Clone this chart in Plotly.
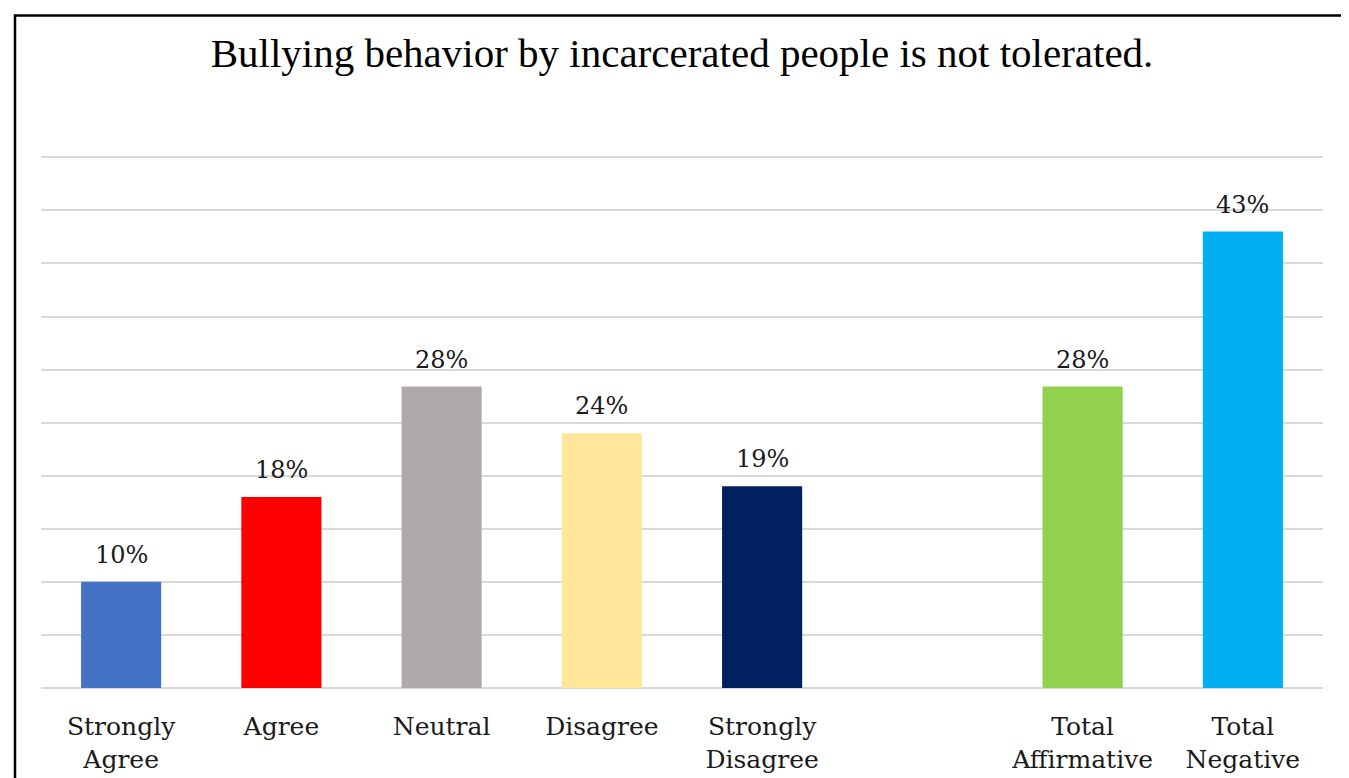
import plotly.graph_objects as go

categories = ["Strongly<br>Agree", "Agree", "Neutral", "Disagree", "Strongly<br>Disagree", " ",
              "Total<br>Affirmative", "Total<br>Negative"]
values = [10, 18, 28.4, 24, 19, None, 28.4, 43]
labels = ["10%", "18%", "28%", "24%", "19%", "", "28%", "43%"]
colors = ["#4472C4", "#FF0000", "#AEAAAA", "#FFE699", "#002060", "#FFFFFF", "#92D050", "#00B0F0"]
grid_values = [0, 5, 10, 15, 20, 25, 30, 35, 40, 45, 50]

title_text = "Bullying behavior by incarcerated people is not tolerated."
FONT = "Georgia, 'DejaVu Serif', serif"
TITLE_FONT = "'Times New Roman', 'Liberation Serif', serif"

fig = go.Figure()
fig.add_trace(go.Bar(
    x=categories, y=values,
    marker=dict(color=colors, line=dict(width=0)),
    cliponaxis=False, width=0.5, hoverinfo="x+y",
))

for cat, val, lab in zip(categories, values, labels):
    if val is None:
        continue
    fig.add_annotation(x=cat, y=val, text=lab, showarrow=False, xref="x", yref="y",
                       yanchor="bottom", yshift=11,
                       font=dict(family=FONT, size=24, color="#1a1a1a"))

fig.update_layout(
    width=1349, height=778,
    paper_bgcolor="white", plot_bgcolor="white",
    margin=dict(l=33, r=34, t=144, b=96),
    showlegend=False,
    title=dict(text=title_text, x=0.5, xref="paper", xanchor="center",
               y=1 - 45 / 778, yref="container", yanchor="middle",
               font=dict(family=TITLE_FONT, size=41, color="#000000")),
    font=dict(family=FONT, color="#1a1a1a"),
)
fig.update_xaxes(showgrid=False, showline=False, ticks="outside", ticklen=16, tickcolor="rgba(0,0,0,0)",
                 tickfont=dict(family=FONT, size=25, color="#1a1a1a"), fixedrange=True)
fig.update_yaxes(range=[0, 50.5], tickvals=grid_values,
                 showticklabels=False, showgrid=True, gridcolor="#D9D9D9", gridwidth=2,
                 zeroline=True, zerolinecolor="#D9D9D9", zerolinewidth=2, showline=False, fixedrange=True)

fig.add_shape(type="rect", xref="paper", yref="paper",
              x0=(7 - 33) / 1282, x1=(1346 - 33) / 1282,
              y0=(682 - 800) / 538, y1=(682 - 7) / 538,
              line=dict(color="black", width=2.5), fillcolor="rgba(0,0,0,0)", layer="above")

fig.write_html("out.html")
